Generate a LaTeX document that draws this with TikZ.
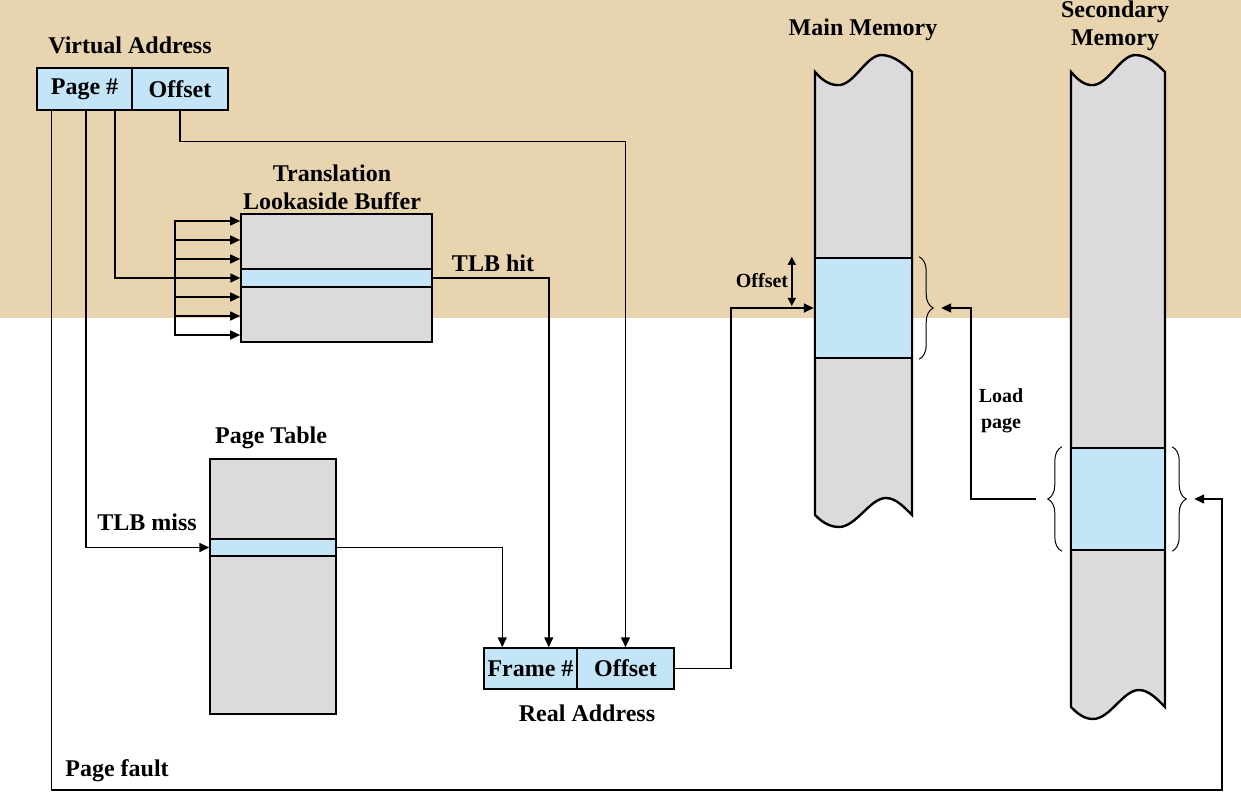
\documentclass[tikz,border=0pt]{standalone}
\usepackage{fontspec}
\setmainfont{Liberation Serif}
\usetikzlibrary{arrows.meta,decorations.pathreplacing,calc}
\definecolor{parch}{HTML}{E8D4AF}
\definecolor{memgray}{HTML}{DCDADD}
\definecolor{pageblue}{HTML}{C4E5F7}
\begin{document}
\begin{tikzpicture}[x=0.5pt,y=-0.5pt,
  lbl/.style={font=\rmfamily\fontsize{12}{14}\selectfont\bfseries, inner sep=0pt, align=center},
  smalllbl/.style={font=\rmfamily\fontsize{10}{13}\selectfont\bfseries, inner sep=0pt, align=center},
  cell/.style={draw, line width=0.75pt, fill=pageblue, minimum height=21pt, inner sep=0pt,
               font=\rmfamily\fontsize{12}{14}\selectfont\bfseries},
  conn/.style={line width=0.75pt, -{Triangle[length=5pt,width=4.5pt]}},
  dbl/.style={line width=0.75pt, {Triangle[length=4pt,width=4pt]}-{Triangle[length=4pt,width=4pt]}},
  col/.style={draw, line width=1.2pt, fill=memgray},
  pagebox/.style={draw, line width=1.2pt, fill=pageblue, inner sep=0pt},
  curly/.style={line width=0.5pt, decorate, decoration={brace, amplitude=7pt}},
]
\useasboundingbox (0,0) rectangle (1241,812);
% background
\fill[white] (0,0) rectangle (1241,812);
\fill[parch] (0,0) rectangle (1241,318);

% memory columns
\draw[col] (815,72) .. controls (822,80) and (830,86) .. (840,85)
  .. controls (855,83) and (866,56) .. (881,55)
  .. controls (894,55) and (905,65) .. (912,72) -- (912,515)
  .. controls (905,508) and (896,498) .. (886,498)
  .. controls (870,498) and (856,527) .. (839,527)
  .. controls (828,527) and (820,520) .. (815,515) -- cycle;
\draw[col] (1071,72) .. controls (1078,80) and (1085,86) .. (1094,85)
  .. controls (1109,83) and (1120,56) .. (1135,55)
  .. controls (1148,55) and (1158,65) .. (1165,72) -- (1165,707)
  .. controls (1158,700) and (1149,690) .. (1139,690)
  .. controls (1123,690) and (1110,719) .. (1093,719)
  .. controls (1083,719) and (1076,712) .. (1071,707) -- cycle;

\node[pagebox, minimum width=48.5pt, minimum height=50pt] (mmpage) at (863.5,308) {};
\node[pagebox, minimum width=47pt, minimum height=51pt] (smpage) at (1118,499) {};

% braces
\draw[curly] ([xshift=3pt]mmpage.north east) -- ([xshift=3pt]mmpage.south east);
\draw[curly] ([xshift=-4pt]smpage.south west) -- ([xshift=-4pt]smpage.north west);
\draw[curly] ([xshift=3pt]smpage.north east) -- ([xshift=3pt]smpage.south east);
\coordinate (mmtip) at ([xshift=14pt]mmpage.east);
\coordinate (smleft) at ([xshift=-17pt]smpage.west);
\coordinate (smtip) at ([xshift=14pt]smpage.east);
\coordinate (pfcorner) at (1222,790);

% virtual address
\node[cell, minimum width=47.5pt] (pagenum) at (84.5,89) {Page \#};
\node[cell, minimum width=48pt] (voff) at (180,89) {Offset};

% TLB
\node[draw, line width=0.8pt, fill=memgray, minimum width=95.5pt, minimum height=64pt, inner sep=0pt] (tlb) at (336.5,278) {};
\node[draw, line width=0.7pt, fill=pageblue, minimum width=95.5pt, minimum height=9pt, inner sep=0pt] (tlbrow) at (336.5,278) {};

% page table
\node[draw, line width=1.2pt, fill=memgray, minimum width=63pt, minimum height=127.5pt, inner sep=0pt] (pt) at (273,586.5) {};
\node[draw, line width=0.7pt, fill=pageblue, minimum width=63pt, minimum height=8.5pt, inner sep=0pt] (ptrow) at (273,547.5) {};

% real address
\node[cell, minimum width=46.5pt, minimum height=20.5pt] (frame) at (530.5,668.5) {Frame \#};
\node[cell, minimum width=48.5pt, minimum height=20.5pt] (raoff) at (625.5,668.5) {Offset};

% labels
\node[lbl] (lva) at (130,45) {Virtual Address};
\node[lbl] (ltlb) at (332,187) {Translation\\Lookaside Buffer};
\node[lbl] (lhit) at (493,263) {TLB hit};
\node[lbl] (lmm) at (863,30) {Main Memory};
\node[lbl] (lsm) at (1115,26) {Secondary\\Memory};
\node[smalllbl] (loff) at (762,281) {Offset};
\node[smalllbl] (lload) at (1001,411) {Load\\page};
\node[lbl] (lpt) at (271,438) {Page Table};
\node[lbl] (lmiss) at (147,522) {TLB miss};
\node[lbl] (lra) at (587,713) {Real Address};
\node[lbl] (lpf) at (117,771) {Page fault};

% connectors
\coordinate (fan) at (175,278);
\draw[conn] ([xshift=-9pt]pagenum.south east) |- (tlbrow.west);
\foreach \k in {-3,-2,-1,1,2,3}
  \draw[conn] (fan) |- ([yshift=\k*9.5pt]tlb.west);
\draw[conn] (tlbrow.east) -| ([xshift=-14.5pt]frame.north east);
\draw[conn] (voff.south) -- ++(0,31) -| (raoff.north);
\draw[conn] ([xshift=0.75pt]pagenum.south) |- (ptrow.west);
\draw[conn] (ptrow.east) -| ([xshift=9.5pt]frame.north west);
\draw[conn] (raoff.east) -- ++(56,0) |- (mmpage.west);
\draw[conn] (smleft) -- ++(-65,0) |- (mmtip);
\draw[conn] ([xshift=7.5pt]pagenum.south west) |- (pfcorner) |- (smtip);
\draw[dbl] ([xshift=-11pt]mmpage.north west) -- ([xshift=-11pt,yshift=1pt]mmpage.west);
\end{tikzpicture}
\end{document}
